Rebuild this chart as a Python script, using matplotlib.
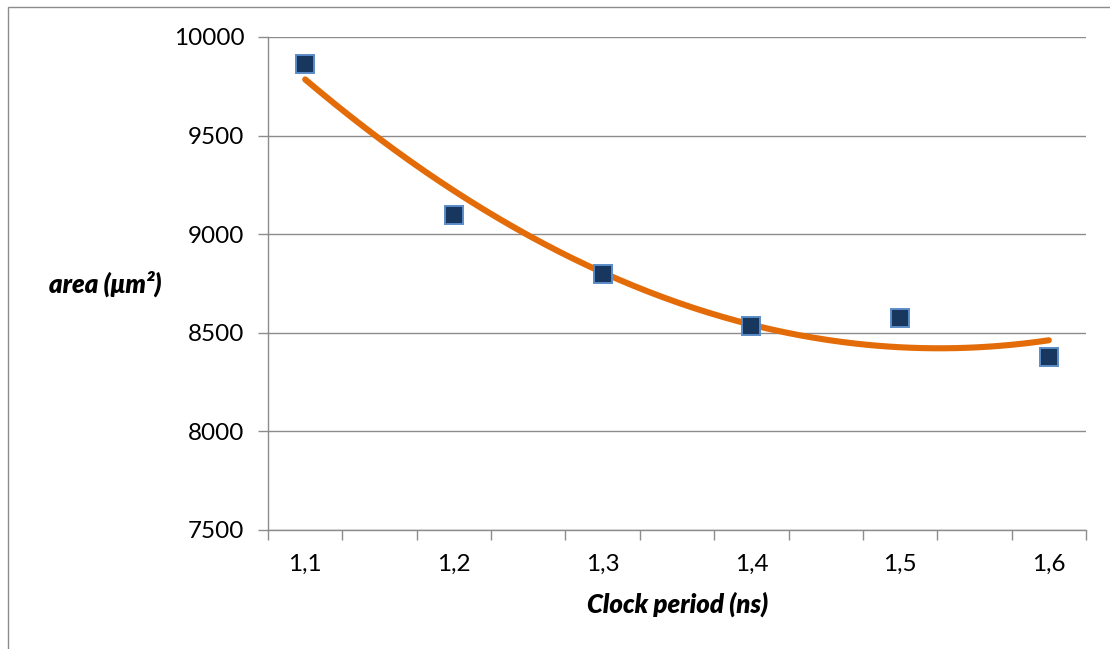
import numpy as np
import matplotlib
matplotlib.use("Agg")
import matplotlib.pyplot as plt
from matplotlib.patches import Rectangle

# Measured area versus clock period
clock_period = [1.1, 1.2, 1.3, 1.4, 1.5, 1.6]
area = [9862, 9097, 8798, 8533, 8574, 8377]
x_tick_labels = ["1,1", "1,2", "1,3", "1,4", "1,5", "1,6"]
y_ticks = [7500, 8000, 8500, 9000, 9500, 10000]

plt.rcParams["font.family"] = ["Lato", "DejaVu Sans"]

fig = plt.figure(figsize=(11.10, 6.49), dpi=100)
ax = fig.add_axes([268 / 1110, 1 - 530 / 649, (1086 - 268) / 1110, (530 - 37) / 649])

grid_col = "#8c8c8c"

# Second-order polynomial trend line
coef = np.polyfit(clock_period, area, 2)
xs = np.linspace(clock_period[0], clock_period[-1], 200)
ax.plot(xs, np.polyval(coef, xs), color="#E36C09", lw=4.4,
        solid_capstyle="round", zorder=3)

ax.plot(clock_period, area, linestyle="none", marker="s", markersize=12.5,
        markerfacecolor="#17375E", markeredgecolor="#5B8CC8",
        markeredgewidth=1.4, zorder=4)

ax.set_xlim(1.075, 1.625)
ax.set_ylim(7500, 10000)

ax.set_yticks(y_ticks)
ax.set_yticklabels([str(v) for v in y_ticks])
ax.yaxis.grid(True, color=grid_col, lw=1.0)
ax.set_axisbelow(True)

ax.set_xticks(clock_period)
ax.set_xticklabels(x_tick_labels)
ax.set_xticks(np.arange(1.075, 1.626, 0.05), minor=True)
ax.tick_params(axis="x", which="major", length=0, pad=17, labelsize=17.5)
ax.tick_params(axis="x", which="minor", length=7, color=grid_col, width=1)
ax.tick_params(axis="y", length=7, color=grid_col, width=1, pad=10, labelsize=17.5)

for side in ("top", "right"):
    ax.spines[side].set_visible(False)
for side in ("left", "bottom"):
    ax.spines[side].set_color(grid_col)
    ax.spines[side].set_linewidth(1.0)

fig.text(105 / 1110, 1 - 284 / 649, "area (\u03bcm\u00b2)", fontsize=18.5,
         fontweight="heavy", style="italic", ha="center", va="center")
fig.text(678 / 1110, 1 - 604 / 649, "Clock period (ns)", fontsize=18.5,
         fontweight="heavy", style="italic", ha="center", va="center")

# Outer chart frame
fig.patches.append(Rectangle((8 / 1110, -0.05), 1.2, 1 - 7 / 649 + 0.05,
                             transform=fig.transFigure, fill=False,
                             edgecolor="#8c8c8c", lw=1.0))

fig.savefig("out.png", dpi=100)
